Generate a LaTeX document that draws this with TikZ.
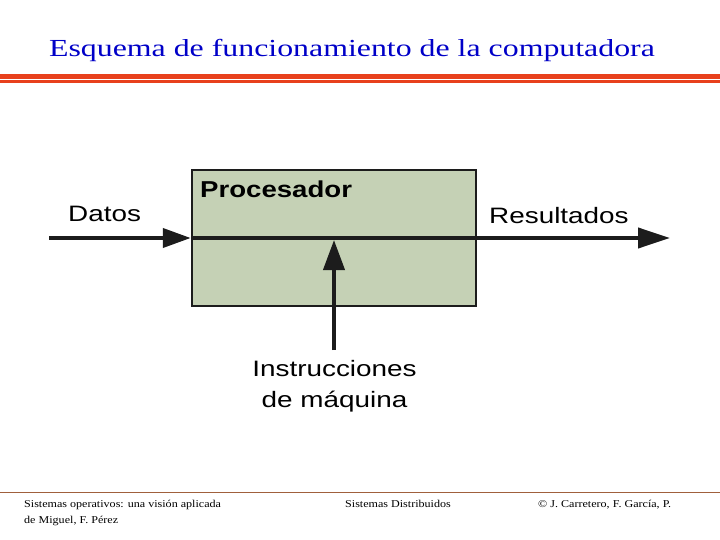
\documentclass[tikz,border=0pt]{standalone}
\usepackage{fontspec}
\setmainfont{Liberation Serif}
\newfontfamily\titlefont[FakeStretch=1.3]{Liberation Serif}
\newfontfamily\footfont[FakeStretch=1.15]{Liberation Serif}
\newfontfamily\diagfont[FakeStretch=1.25]{Liberation Sans}
\newfontfamily\diagboldfont[FakeStretch=1.2]{Liberation Sans Bold}
\usetikzlibrary{arrows.meta}
\definecolor{titleblue}{RGB}{0,0,200}
\definecolor{barorange}{RGB}{232,64,28}
\definecolor{boxgreen}{RGB}{197,209,181}
\definecolor{boxedge}{RGB}{28,28,28}
\definecolor{footrule}{RGB}{160,96,60}
\tikzset{
  lbl/.style={inner sep=0pt, anchor=base west, font=\diagfont\fontsize{22.3}{26}\selectfont},
  foot/.style={inner sep=0pt, anchor=base west, font=\footfont\fontsize{10.5}{12}\selectfont},
  flow/.style={line width=4pt, draw=boxedge},
  headA/.style={-{Triangle[length=28pt,width=19pt]}},
}
\begin{document}
\begin{tikzpicture}[x=1pt,y=-1pt]
\useasboundingbox[fill=white] (0,0) rectangle (720,540);
% title
\node[inner sep=0pt, anchor=base, text=titleblue, font=\titlefont\fontsize{24.5}{28}\selectfont] (title) at (352,57) {Esquema de funcionamiento de la computadora};
% orange bars
\fill[barorange] (0,74) rectangle (720,79);
\fill[barorange] (0,80.5) rectangle (720,83);
% processor box
\node[draw=boxedge, line width=2.5pt, fill=boxgreen, minimum width=284pt, minimum height=136pt, inner sep=0pt] (proc) at (334,238) {};
\node[inner sep=0pt, anchor=base west, font=\diagboldfont\fontsize{23}{26}\selectfont] (proclbl) at (200,197) {Procesador};
% coordinates
\coordinate (din) at (49,238);
\coordinate (dout) at (670,238);
\coordinate (ibot) at (334,350);
\coordinate (itop) at (334,240);
% flows
\draw[flow, headA] (din) -- (proc.west);
\draw[flow] (proc.west) -- (proc.east);
\draw[flow, -{Triangle[length=32pt,width=20pt]}] (proc.east) -- (dout);
\draw[flow, -{Triangle[length=30pt,width=21pt]}] (ibot) -- (itop);
% labels
\node[lbl] (datos) at (68,222) {Datos};
\node[lbl] (res) at (489,223) {Resultados};
\node[lbl, anchor=base] (instr1) at (334.5,376) {Instrucciones};
\node[lbl, anchor=base] (instr2) at (334.5,407) {de máquina};
% footer
\draw[footrule, line width=1pt] (0,492.5) -- (720,492.5);
\node[foot] (f1) at (24,507) {Sistemas operativos: una visión aplicada};
\node[foot] (f2) at (24,523.5) {de Miguel, F. Pérez};
\node[foot] (f3) at (345,507) {Sistemas Distribuidos};
\node[foot] (f4) at (538,507) {© J. Carretero, F. García, P.};
\end{tikzpicture}
\end{document}
